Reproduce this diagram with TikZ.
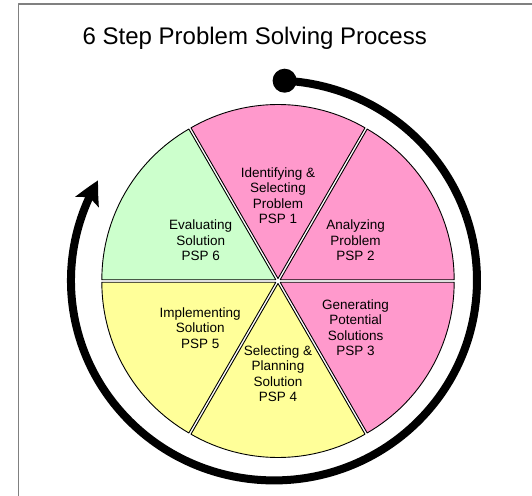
\documentclass[tikz,border=0pt]{standalone}
\usepackage{fontspec}
\setmainfont{Liberation Sans}
\usetikzlibrary{arrows.meta, bending, positioning}

\definecolor{psppink}{HTML}{FF99CC}
\definecolor{pspyellow}{HTML}{FFFF99}
\definecolor{pspgreen}{HTML}{CCFFCC}

\tikzset{
  slice/.style={draw=black, line width=0.9pt},
  steplabel/.style={align=center, inner sep=0pt, font=\fontsize{13.5}{15.5}\selectfont},
}

\begin{document}
\begin{tikzpicture}[x=1pt, y=1pt, line cap=round, line join=round]
\useasboundingbox (-278,-214) rectangle (254,281);

% Frame
\draw[gray, line width=1.5pt, line cap=butt] (-259.3,-220) -- (-259.3,277) -- (260,277);

% Title
\node[anchor=base west, inner sep=0pt, font=\fontsize{24}{28}\selectfont] (title) at (-195.5,236) {6 Step Problem Solving Process};

% Pie slices (mid angle / colour)
\foreach \m/\col in {90/psppink, 30/psppink, -30/psppink, -90/pspyellow, -150/pspyellow, 150/pspgreen} {
  \draw[slice, fill=\col, shift={(\m:2.5)}] (0,0) -- (\m-30:174) arc[start angle=\m-30, end angle=\m+30, radius=174] -- cycle;
}

% Step labels
\node[steplabel] (psp1) at (0,85.4) {Identifying \&\\Selecting\\Problem\\PSP 1};
\node[steplabel] (psp2) at (77.6,40.8) {Analyzing\\Problem\\PSP 2};
\node[steplabel] (psp3) at (77.6,-46.7) {Generating\\Potential\\Solutions\\PSP 3};
\node[steplabel] (psp4) at (0,-92.5) {Selecting \&\\Planning\\Solution\\PSP 4};
\node[steplabel] (psp5) at (-77.8,-46.8) {Implementing\\Solution\\PSP 5};
\node[steplabel] (psp6) at (-77.3,40.8) {Evaluating\\Solution\\PSP 6};

% Cycle arrow round the pie
\node[circle, fill=black, inner sep=0pt, minimum size=24pt] (dot) at (6.6,200.3) {};
\draw[line width=8pt, line cap=butt, -{Stealth[length=24pt, width=25pt, inset=5pt, bend]}]
  (dot.center) arc[start angle=87, end angle=-210, x radius=203, y radius=200];

\end{tikzpicture}
\end{document}
